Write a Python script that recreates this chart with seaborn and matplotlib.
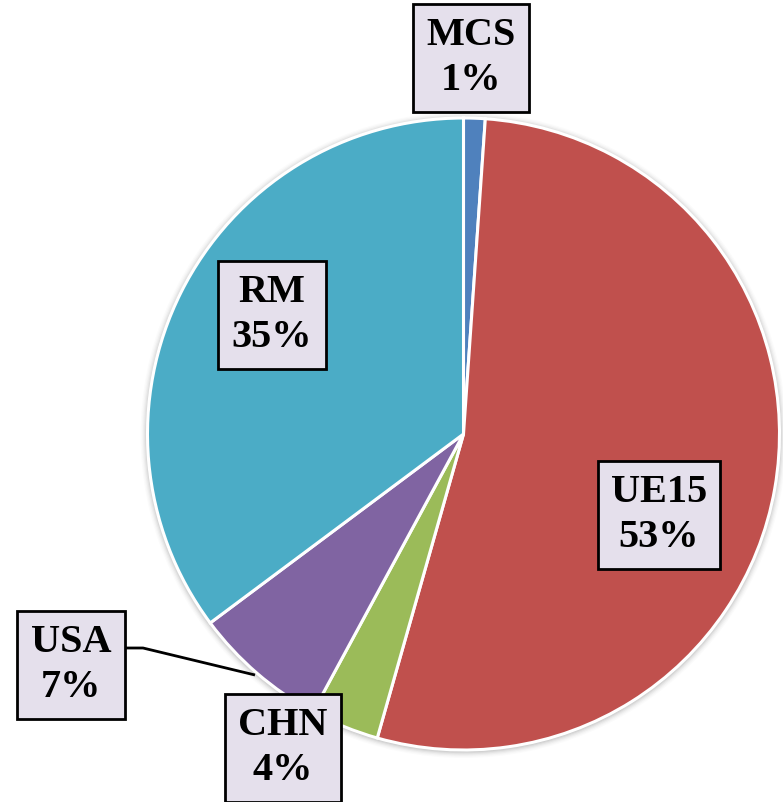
import numpy as np
import matplotlib
matplotlib.use("Agg")
import matplotlib.pyplot as plt
import seaborn as sns
from matplotlib.patches import Circle

# --- DATI ---
regions = ["MCS", "UE15", "CHN", "USA", "RM"]
shares = [1.1, 53.3, 3.5, 6.9, 35.2]
pct_labels = ["1%", "53%", "4%", "7%", "35%"]
slice_colors = ["#4f81bd", "#c0504d", "#9bbb59", "#8064a2", "#4bacc6"]

# --- STILE ---
sns.set_theme(style="white")
plt.rcParams['font.family'] = ['Liberation Serif', 'DejaVu Serif']

W, H = 783, 802
fig = plt.figure(figsize=(W / 100, H / 100), dpi=100)
ax = fig.add_axes([0, 0, 1, 1])

def py(y):
    # pixel dall'alto -> coordinata dati
    return H - y

cx, cy, R = 463.5, py(434), 316

# ombra morbida attorno alla torta
for i, a in enumerate([0.06, 0.05, 0.04, 0.03, 0.02, 0.015]):
    ax.add_patch(Circle((cx, cy - 1), R + 1 + i * 1.2, color="black", alpha=a, lw=0, zorder=0))

wedges, _ = ax.pie(shares, colors=slice_colors, startangle=90, counterclock=False,
                   center=(cx, cy), radius=R,
                   wedgeprops=dict(edgecolor="white", linewidth=2.2))
for w in wedges:
    w.set_zorder(1)

# --- ETICHETTE ---
label_pos = {"MCS": (471, 58), "UE15": (659, 515), "CHN": (283, 748),
             "USA": (71, 665), "RM": (272, 315)}
for name, pct in zip(regions, pct_labels):
    x, y = label_pos[name]
    ax.text(x, py(y), f"{name}\n{pct}", ha="center", va="center", color="black",
            fontsize=29, fontweight="bold", linespacing=1.3, zorder=5,
            bbox=dict(boxstyle="square,pad=0.33", facecolor="#e5e0ec",
                      edgecolor="black", linewidth=2))

# linea guida USA
ax.plot([126, 143, 255], [py(648), py(648), py(675)], color="black", lw=2, zorder=4,
        solid_capstyle="butt")

ax.set_xlim(0, W)
ax.set_ylim(0, H)
ax.set_aspect("equal")
ax.axis("off")

plt.savefig("out.png", dpi=100)
